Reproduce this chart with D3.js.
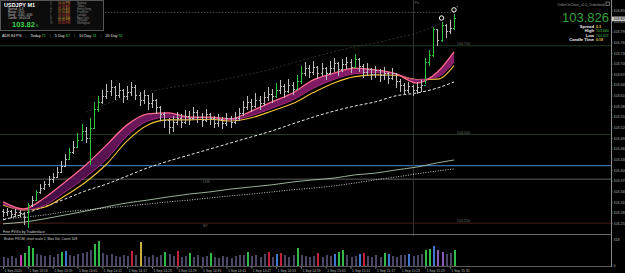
<!DOCTYPE html>
<meta charset="utf-8">
<style>
    body { margin: 0; background: #000; overflow: hidden; }
    svg { display: block; font-family: "Liberation Sans", Arial, sans-serif; }
</style>
<body>
<div id="chart-container"></div>
<script src="https://cdnjs.cloudflare.com/ajax/libs/d3/7.8.5/d3.min.js"></script>
<script>
    // USDJPY M1 prices, one bar per minute
    var firstOpen = 103.282;
    var closes = [
        103.279, 103.282, 103.273, 103.279, 103.276, 103.265, 103.301, 103.315, 103.335, 103.349,
        103.358, 103.372, 103.380, 103.394, 103.411, 103.428, 103.448, 103.462, 103.484, 103.507,
        103.490, 103.518, 103.569, 103.589, 103.606, 103.620, 103.631, 103.611, 103.625, 103.606,
        103.617, 103.631, 103.611, 103.597, 103.609, 103.586, 103.597, 103.575, 103.555, 103.538,
        103.521, 103.535, 103.546, 103.535, 103.552, 103.544, 103.561, 103.549, 103.538, 103.555,
        103.544, 103.532, 103.541, 103.530, 103.544, 103.535, 103.546, 103.558, 103.575, 103.589,
        103.580, 103.597, 103.586, 103.603, 103.614, 103.606, 103.625, 103.634, 103.620, 103.637,
        103.628, 103.648, 103.671, 103.687, 103.676, 103.690, 103.673, 103.685, 103.671, 103.687,
        103.699, 103.682, 103.696, 103.704, 103.690, 103.710, 103.693, 103.676, 103.682, 103.668,
        103.679, 103.665, 103.673, 103.659, 103.671, 103.648, 103.637, 103.625, 103.634, 103.623,
        103.631, 103.637, 103.704, 103.724, 103.795, 103.766, 103.806, 103.789, 103.800, 103.826
    ];
    var highs = [
        103.290, 103.293, 103.287, 103.290, 103.287, 103.282, 103.307, 103.326, 103.343, 103.360,
        103.369, 103.383, 103.391, 103.408, 103.425, 103.445, 103.462, 103.481, 103.504, 103.530,
        103.521, 103.546, 103.592, 103.609, 103.625, 103.642, 103.654, 103.637, 103.645, 103.628,
        103.637, 103.648, 103.640, 103.620, 103.625, 103.611, 103.617, 103.600, 103.580, 103.563,
        103.546, 103.552, 103.563, 103.558, 103.569, 103.566, 103.578, 103.569, 103.561, 103.572,
        103.561, 103.552, 103.558, 103.549, 103.561, 103.552, 103.563, 103.575, 103.594, 103.609,
        103.600, 103.617, 103.609, 103.620, 103.634, 103.628, 103.645, 103.654, 103.642, 103.657,
        103.648, 103.668, 103.693, 103.704, 103.696, 103.707, 103.693, 103.701, 103.690, 103.707,
        103.716, 103.704, 103.713, 103.718, 103.713, 103.727, 103.716, 103.699, 103.701, 103.687,
        103.693, 103.685, 103.690, 103.676, 103.687, 103.671, 103.657, 103.645, 103.648, 103.640,
        103.648, 103.654, 103.716, 103.738, 103.803, 103.795, 103.817, 103.812, 103.823, 103.840
    ];
    var lows = [
        103.267, 103.270, 103.265, 103.267, 103.267, 103.245, 103.237, 103.295, 103.312, 103.332,
        103.343, 103.352, 103.363, 103.377, 103.394, 103.411, 103.428, 103.445, 103.465, 103.484,
        103.476, 103.414, 103.518, 103.563, 103.586, 103.600, 103.609, 103.597, 103.603, 103.589,
        103.597, 103.609, 103.597, 103.580, 103.586, 103.569, 103.575, 103.558, 103.538, 103.518,
        103.501, 103.507, 103.527, 103.518, 103.530, 103.527, 103.541, 103.532, 103.521, 103.535,
        103.527, 103.518, 103.521, 103.515, 103.524, 103.518, 103.530, 103.538, 103.552, 103.569,
        103.563, 103.575, 103.569, 103.580, 103.594, 103.589, 103.603, 103.614, 103.603, 103.617,
        103.611, 103.625, 103.642, 103.665, 103.659, 103.668, 103.656, 103.665, 103.654, 103.668,
        103.676, 103.665, 103.676, 103.685, 103.673, 103.687, 103.676, 103.659, 103.665, 103.654,
        103.659, 103.648, 103.654, 103.642, 103.654, 103.631, 103.620, 103.611, 103.617, 103.609,
        103.614, 103.620, 103.642, 103.693, 103.718, 103.749, 103.761, 103.772, 103.783, 103.795
    ];
    var volumes = [
        110, 95, 120, 100, 140, 165, 250, 225, 150, 130,
        120, 135, 110, 145, 170, 180, 140, 125, 150, 160,
        175, 190, 270, 300, 160, 130, 145, 120, 110, 135,
        125, 180, 140, 295, 120, 110, 130, 115, 140, 170,
        150, 125, 180, 110, 120, 160, 105, 130, 115, 120,
        165, 110, 100, 125, 115, 95, 120, 130, 140, 175,
        120, 135, 105, 145, 170, 110, 150, 165, 130, 115,
        140, 220, 135, 125, 110, 120, 165, 105, 130, 120,
        150, 175, 190, 140, 115, 125, 150, 165, 120, 110,
        130, 105, 160, 150, 120, 110, 135, 140, 150, 120,
        130, 145, 200, 210, 240, 190, 175, 150, 165, 200
    ];
    // which volume bars stand out, by kind
    var volGreen = [5, 6, 7, 14, 22, 23, 39, 45, 50, 59, 71, 81, 82, 92, 102, 103, 109];
    var volBlue = [15, 66, 80, 86, 93, 98, 104];
    var volRed = [31, 42, 64, 67, 76, 87];
    var volYellow = [33];
    var volMagenta = [4];
    var volViolet = [105, 106];

    // indicator values sampled every 5 bars
    var maKeys = [0, 5, 10, 15, 20, 25, 30, 35, 40, 45, 50, 55, 60, 65, 70, 75, 80, 85, 90, 95, 100, 105, 109];
    var maFast = [103.310, 103.290, 103.321, 103.366, 103.414, 103.470, 103.527, 103.558, 103.561, 103.549, 103.549, 103.544,
        103.566, 103.592, 103.617, 103.654, 103.673, 103.687, 103.682, 103.671, 103.645, 103.676, 103.733];
    var maSlow = [103.304, 103.287, 103.300, 103.338, 103.380, 103.430, 103.496, 103.538, 103.549, 103.546, 103.547, 103.541,
        103.553, 103.574, 103.597, 103.630, 103.655, 103.671, 103.674, 103.670, 103.654, 103.662, 103.704];
    var maYellow = [103.301, 103.287, 103.295, 103.327, 103.366, 103.416, 103.482, 103.527, 103.541, 103.541, 103.543, 103.538,
        103.547, 103.566, 103.587, 103.618, 103.645, 103.663, 103.668, 103.667, 103.655, 103.656, 103.694];
    var maTrend = [103.259, 103.276, 103.296, 103.318, 103.341, 103.360, 103.383, 103.406, 103.425, 103.442, 103.459, 103.476,
        103.493, 103.510, 103.530, 103.549, 103.566, 103.580, 103.592, 103.609, 103.617, 103.631, 103.648];
    var maUpper = [null, null, null, null, 103.563, 103.586, 103.606, 103.620, 103.631, 103.640, 103.648, 103.659,
        103.671, 103.685, 103.702, 103.718, 103.733, 103.747, 103.758, 103.772, 103.786, 103.809, 103.828];
    var bandSolid = [103.248, 103.253, 103.262, 103.273, 103.284, 103.296, 103.307, 103.315, 103.324, 103.332, 103.338, 103.346,
        103.352, 103.358, 103.366, 103.372, 103.377, 103.386, 103.391, 103.400, 103.408, 103.420, 103.428];
    var bandDotted = [103.262, 103.267, 103.273, 103.282, 103.287, 103.293, 103.298, 103.304, 103.310, 103.315, 103.321, 103.327,
        103.332, 103.338, 103.344, 103.349, 103.355, 103.363, 103.372, 103.380, 103.389, 103.397, 103.403];

    var roundLevels = [103.750, 103.500, 103.250];
    var blueLevel = 103.412, greyLevel = 103.374;
    var dayHigh = 103.844, dayHighFrom = 24;
    var sessionBar = 99;
    var fractalBars = [106, 109];

    var priceTicks = [103.850, 103.820, 103.790, 103.760, 103.730, 103.700, 103.670, 103.640, 103.610, 103.580, 103.550,
        103.520, 103.490, 103.460, 103.430, 103.400, 103.370, 103.340, 103.310, 103.280, 103.250];
    var timeTickIdx = [0, 6, 12, 18, 24, 30, 36, 42, 48, 54, 60, 66, 72, 78, 84, 90, 96, 102, 108];
    var timeLabels = ["1 Sep 2020", "1 Sep 13:53", "1 Sep 13:59", "1 Sep 14:05", "1 Sep 14:11", "1 Sep 14:17", "1 Sep 14:23",
        "1 Sep 14:29", "1 Sep 14:35", "1 Sep 14:41", "1 Sep 14:47", "1 Sep 14:53", "1 Sep 14:59", "1 Sep 15:05",
        "1 Sep 15:11", "1 Sep 15:17", "1 Sep 15:23", "1 Sep 15:29", "1 Sep 15:35"];
    var maxVol = 318;

    var infoRows = ["Spread : 0.3", "Range : 59.0", "Swap : -0.66 / -0.90", "Candle : 00:00:18"];
    var sessionLetters = ["S", "T", "H", "F", "L", "N", "C", "W"];
    var sessionTimes = ["10:00 PM", "12:00 AM", "01:00 AM", "07:00 AM", "08:00 AM", "01:00 PM", "02:00 PM", "09:00 PM"];
    var sessionNames = ["Sydney", "Tokyo", "Hong Kong", "Frankfurt", "London", "New York", "Chicago", "Wellington"];
    var adrLabels = ["Today", "5 Day", "10 Day", "20 Day"];
    var adrValues = [71, 87, 74, 92];

    var W = 625, H = 273, axisX = 611;
    var svg = d3.select("#chart-container").append("svg").attr("width", W).attr("height", H);
    svg.append("rect").attr("width", W).attr("height", H).attr("fill", "#000");

    var x = d3.scaleLinear().domain([0, closes.length - 1]).range([3, 454]);
    var y = d3.scaleLinear().domain([103.225, 103.865]).range([232, 5]);
    var yv = d3.scaleLinear().domain([0, maxVol]).range([266, 240]);
    var px = function(i) { return Math.round(x(i)) + 0.5; };
    var fmt = d3.format(".3f");

    // horizontal levels
    var levelColor = ["#1f3a25", "#1f3a25", "#4a1e1e"];
    roundLevels.forEach(function(v, j) {
        svg.append("line").attr("x1", 0).attr("x2", axisX).attr("y1", y(v)).attr("y2", y(v))
            .attr("stroke", levelColor[j]).attr("stroke-width", 1);
        svg.append("text").attr("x", 457).attr("y", y(v) - 0.8).attr("fill", "#6f6f6f")
            .attr("font-size", 3.6).text(fmt(v));
    });
    svg.append("line").attr("x1", 0).attr("x2", axisX).attr("y1", y(blueLevel)).attr("y2", y(blueLevel))
        .attr("stroke", "#3a6ea8").attr("stroke-width", 1.3);
    svg.append("line").attr("x1", 0).attr("x2", axisX).attr("y1", y(greyLevel)).attr("y2", y(greyLevel))
        .attr("stroke", "#5e5e5e").attr("stroke-width", 1);
    svg.append("text").attr("x", 203).attr("y", y(greyLevel) + 3.5).attr("fill", "#777").attr("font-size", 3.4).text("LDN");
    svg.append("text").attr("x", 203).attr("y", y(roundLevels[2]) + 4).attr("fill", "#777").attr("font-size", 3.4).text("NY");
    svg.append("line").attr("x1", x(dayHighFrom)).attr("x2", x(closes.length - 1)).attr("y1", y(dayHigh)).attr("y2", y(dayHigh))
        .attr("stroke", "#8a8a8a").attr("stroke-width", 0.8).attr("stroke-dasharray", "1,2");
    svg.append("line").attr("x1", px(sessionBar)).attr("x2", px(sessionBar)).attr("y1", 0).attr("y2", 236)
        .attr("stroke", "#333").attr("stroke-width", 1);
    svg.append("text").attr("x", px(sessionBar) + 1).attr("y", 4).attr("fill", "#777").attr("font-size", 3.4).text("Piv");

    // indicator lines
    function series(arr) {
        return maKeys.map(function(k, j) { return { k: k, v: arr[j] }; });
    }
    var line = d3.line().defined(function(d) { return d.v != null; })
        .x(function(d) { return x(d.k); }).y(function(d) { return y(d.v); }).curve(d3.curveMonotoneX);

    svg.append("path").datum(series(maUpper)).attr("d", line).attr("fill", "none")
        .attr("stroke", "#383838").attr("stroke-width", 0.8).attr("stroke-dasharray", "2,2");
    svg.append("path").datum(series(bandSolid)).attr("d", line).attr("fill", "none")
        .attr("stroke", "#a9c4a9").attr("stroke-width", 0.9);
    svg.append("path").datum(series(bandDotted)).attr("d", line).attr("fill", "none")
        .attr("stroke", "#dcdcdc").attr("stroke-width", 0.9).attr("stroke-dasharray", "1,1.5");
    svg.append("path").datum(series(maTrend)).attr("d", line).attr("fill", "none")
        .attr("stroke", "#e8e8e8").attr("stroke-width", 1).attr("stroke-dasharray", "3,2");

    // ribbon between fast and slow averages
    var ribbon = maKeys.map(function(k, j) { return { k: k, fast: maFast[j], slow: maSlow[j] }; });
    var area = d3.area().x(function(d) { return x(d.k); })
        .y0(function(d) { return y(d.slow); }).y1(function(d) { return y(d.fast); }).curve(d3.curveMonotoneX);
    var grad = svg.append("defs").append("linearGradient").attr("id", "rib").attr("x1", 0).attr("x2", 0).attr("y1", 0).attr("y2", 1);
    grad.append("stop").attr("offset", "0%").attr("stop-color", "#a8247e");
    grad.append("stop").attr("offset", "100%").attr("stop-color", "#4a1050");
    svg.append("path").datum(ribbon).attr("d", area).attr("fill", "url(#rib)").attr("opacity", 0.85);
    svg.append("path").datum(series(maYellow)).attr("d", line).attr("fill", "none")
        .attr("stroke", "#f2c23a").attr("stroke-width", 1.1);
    svg.append("path").datum(series(maSlow)).attr("d", line).attr("fill", "none")
        .attr("stroke", "#a82884").attr("stroke-width", 1);
    svg.append("path").datum(series(maFast)).attr("d", line).attr("fill", "none")
        .attr("stroke", "#ff6a8a").attr("stroke-width", 1.3);

    // OHLC bars
    var opens = closes.map(function(c, i) { return i ? closes[i - 1] : firstOpen; });
    var idx = d3.range(closes.length);
    function barColor(i) { return closes[i] - opens[i] >= 0.018 ? "#2ec443" : "#bdbdbd"; }
    var bars = svg.append("g").attr("shape-rendering", "crispEdges").selectAll("g").data(idx).join("g")
        .attr("stroke", barColor).attr("stroke-width", 1);
    bars.append("line").attr("x1", px).attr("x2", px)
        .attr("y1", function(i) { return y(highs[i]); }).attr("y2", function(i) { return y(lows[i]); });
    bars.append("line").attr("x1", function(i) { return px(i) - 1.5; }).attr("x2", px)
        .attr("y1", function(i) { return y(opens[i]); }).attr("y2", function(i) { return y(opens[i]); });
    bars.append("line").attr("x1", px).attr("x2", function(i) { return px(i) + 1.5; })
        .attr("y1", function(i) { return y(closes[i]); }).attr("y2", function(i) { return y(closes[i]); });

    // fractal markers
    fractalBars.forEach(function(i) {
        svg.append("circle").attr("cx", x(i)).attr("cy", y(highs[i]) - 4).attr("r", 2.2)
            .attr("fill", "none").attr("stroke", "#fff").attr("stroke-width", 1);
    });
    svg.append("text").attr("x", x(fractalBars[1]) + 2.5).attr("y", y(highs[fractalBars[1]]) - 5)
        .attr("fill", "#fff").attr("font-size", 4).text("*");

    // panel separators
    svg.append("line").attr("x1", 0).attr("x2", axisX).attr("y1", 234.5).attr("y2", 234.5).attr("stroke", "#6a6a6a");
    svg.append("line").attr("x1", 0).attr("x2", axisX).attr("y1", 266.5).attr("y2", 266.5).attr("stroke", "#5a5a5a");
    svg.append("text").attr("x", 3).attr("y", 232.5).attr("fill", "#ddd").attr("font-size", 3.5)
        .text("Free FVG's by Tradersface");
    svg.append("text").attr("x", 4).attr("y", 239.5).attr("fill", "#cfcfcf").attr("font-size", 3.4)
        .text("Broker FXCM;  chart scale 2,  Max Vol,  Count  108");

    // volume
    function volColor(i) {
        if (volGreen.indexOf(i) >= 0) return "#33b84a";
        if (volBlue.indexOf(i) >= 0) return "#3f78d0";
        if (volRed.indexOf(i) >= 0) return "#c0223c";
        if (volYellow.indexOf(i) >= 0) return "#c8b040";
        if (volMagenta.indexOf(i) >= 0) return "#c43cb0";
        if (volViolet.indexOf(i) >= 0) return "#8a5ab8";
        return "#4c4664";
    }
    svg.append("g").attr("shape-rendering", "crispEdges").selectAll("rect").data(idx).join("rect")
        .attr("x", function(i) { return Math.round(x(i)) - 0.5; })
        .attr("width", 2)
        .attr("y", function(i) { return yv(volumes[i]); })
        .attr("height", function(i) { return yv(0) - yv(volumes[i]); })
        .attr("fill", volColor);

    // right price axis
    var axis = svg.append("g").attr("transform", "translate(" + axisX + ",0)")
        .call(d3.axisRight(y).tickValues(priceTicks).tickFormat(fmt).tickSize(1.5).tickPadding(1));
    axis.select(".domain").remove();
    axis.selectAll("line").attr("stroke", "#888");
    axis.selectAll("text").attr("fill", "#b0b0b0").attr("font-size", 3.6).attr("font-family", "Liberation Sans, Arial");
    svg.append("line").attr("x1", axisX + 0.5).attr("x2", axisX + 0.5).attr("y1", 0).attr("y2", 267).attr("stroke", "#8a8a8a");
    var last = closes[closes.length - 1];
    svg.append("rect").attr("x", axisX + 1).attr("y", y(last) - 2.3).attr("width", 13).attr("height", 4.6).attr("fill", "#c8c8c8");
    svg.append("text").attr("x", axisX + 2.5).attr("y", y(last) + 1.3).attr("fill", "#000").attr("font-size", 3.6).text(fmt(last));
    svg.append("text").attr("x", axisX + 2.5).attr("y", yv(maxVol) + 1.3).attr("fill", "#b0b0b0").attr("font-size", 3.6).text(maxVol);
    svg.append("text").attr("x", axisX + 2.5).attr("y", yv(0) + 1).attr("fill", "#b0b0b0").attr("font-size", 3.6).text("0");

    // time axis
    var tAxis = svg.append("g").attr("transform", "translate(0,267)")
        .call(d3.axisBottom(x).tickValues(timeTickIdx).tickFormat(function(d, j) { return timeLabels[j]; })
            .tickSize(1.5).tickPadding(1));
    tAxis.select(".domain").remove();
    tAxis.selectAll("line").attr("stroke", "#888");
    tAxis.selectAll("text").attr("text-anchor", "start").attr("dx", 1).attr("fill", "#b8b8b8")
        .attr("font-size", 3.4).attr("font-family", "Liberation Sans, Arial");

    // top-left info panel
    svg.append("rect").attr("x", 0.5).attr("y", 0.5).attr("width", 103).attr("height", 30)
        .attr("fill", "#0c0c0c").attr("stroke", "#555");
    svg.append("text").attr("x", 4).attr("y", 6.5).attr("fill", "#fff").attr("font-size", 5.5)
        .attr("font-weight", "bold").text("USDJPY   M1");
    infoRows.forEach(function(t, j) {
        svg.append("text").attr("x", 8).attr("y", 10 + j * 2.9).attr("fill", "#c8c8c8").attr("font-size", 2.8).text(t);
    });
    svg.append("text").attr("x", 12).attr("y", 27).attr("fill", "#3ad24c").attr("font-size", 7.5)
        .attr("font-weight", "bold").text(fmt(last).slice(0, 6));
    svg.append("text").attr("x", 36).attr("y", 27).attr("fill", "#3ad24c").attr("font-size", 4)
        .text(fmt(last).slice(6));
    sessionNames.forEach(function(n, j) {
        var ty = 4 + j * 2.9;
        svg.append("text").attr("x", 50).attr("y", ty).attr("fill", "#6a6a6a").attr("font-size", 2.8).text(sessionLetters[j]);
        svg.append("text").attr("x", 58).attr("y", ty).attr("fill", j % 3 === 1 ? "#c84a3a" : "#d8963e")
            .attr("font-size", 2.8).text(sessionTimes[j]);
        svg.append("text").attr("x", 77).attr("y", ty).attr("fill", "#8a8a8a").attr("font-size", 2.8).text(n);
    });

    // ADR row
    var adr = svg.append("text").attr("x", 2).attr("y", 36.5).attr("font-size", 3.8);
    adr.append("tspan").attr("fill", "#e0e0e0").text("ADR 84 PS");
    adrLabels.forEach(function(l, j) {
        adr.append("tspan").attr("fill", "#777").attr("dx", 4).text("|");
        adr.append("tspan").attr("fill", "#e0e0e0").attr("dx", 4).text(l + " ");
        adr.append("tspan").attr("fill", "#3ad24c").text(adrValues[j]);
    });

    // top-right order panel
    svg.append("text").attr("x", 605).attr("y", 5.5).attr("text-anchor", "end").attr("fill", "#9a9a9a")
        .attr("font-size", 3.4).text("OrderOnChart_v1.0_Orderbook");
    svg.append("rect").attr("x", 606).attr("y", 2).attr("width", 3.5).attr("height", 3.5)
        .attr("fill", "none").attr("stroke", "#aaa").attr("stroke-width", 0.6);
    svg.append("text").attr("x", 609).attr("y", 21.5).attr("text-anchor", "end").attr("fill", "#36a03e")
        .attr("font-size", 13).text(fmt(last));
    var panelRows = [["Spread", "0.3", "#e8c43a"], ["High", fmt(d3.max(highs)), "#2e8a36"],
        ["Low", fmt(d3.min(lows)), "#2e8a36"], ["Candle Time", "0:18", "#e8c43a"]];
    panelRows.forEach(function(r, j) {
        var ty = 27.5 + j * 4.5;
        svg.append("text").attr("x", 594).attr("y", ty).attr("text-anchor", "end").attr("fill", "#f0f0f0")
            .attr("font-size", 4.2).attr("font-weight", "bold").text(r[0]);
        svg.append("text").attr("x", 596).attr("y", ty).attr("fill", r[2])
            .attr("font-size", 3.5).attr("font-weight", "bold").text(r[1]);
    });
</script>
</body>
